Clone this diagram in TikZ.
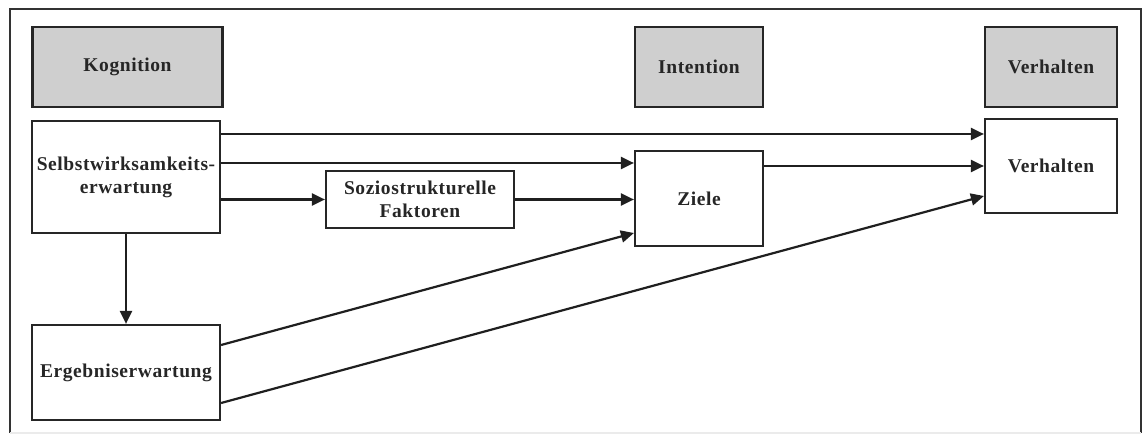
\documentclass[tikz,border=0pt]{standalone}
\usepackage{fontspec}
\setmainfont{Liberation Serif}[LetterSpace=3]
\usetikzlibrary{arrows.meta}
\begin{document}
\begin{tikzpicture}[x=1pt,y=-1pt,
  box/.style={draw=black!85,line width=2.2pt,rectangle,inner sep=0pt,align=center,
    font=\fontsize{19.5}{23}\selectfont\bfseries,text=black!85},
  head/.style={box,fill=black!19},
  arr/.style={line width=2.2pt,draw=black!88,-{Triangle[length=13pt,width=12pt]}},
  ln/.style={line width=2.2pt,draw=black!80}]
\useasboundingbox (0,0) rectangle (1143,435);
\draw[ln] (10,433) -- (10,9) -- (1141,9) -- (1141,433);
\draw[line width=1.5pt,draw=black!8] (10,433) -- (1141,433);
% headers
\node[head,minimum width=190pt,minimum height=80pt] (kog) at (127.5,67) {Kognition};
\node[head,minimum width=128pt,minimum height=80pt] (int) at (699,67) {Intention};
\node[head,minimum width=132pt,minimum height=80pt] (verhH) at (1051,67) {Verhalten};
% boxes
\node[box,minimum width=188pt,minimum height=112pt] (sel) at (126,177) {Selbstwirksamkeits-\\erwartung};
\node[box,minimum width=188pt,minimum height=95pt] (erg) at (126,372.5) {Ergebniserwartung};
\node[box,minimum width=188pt,minimum height=57pt] (soz) at (420,199.5) {Soziostrukturelle\\Faktoren};
\node[box,minimum width=128pt,minimum height=95pt] (zie) at (699,198.5) {Ziele};
\node[box,minimum width=132pt,minimum height=94pt] (ver) at (1051,166) {Verhalten};
% connectors
\draw[arr] (sel.east |- 0,134) -- (ver.west |- 0,134);
\draw[arr] (sel.east |- 0,163) -- (zie.west |- 0,163);
\draw[arr] (sel.east |- soz.west) -- (soz.west);
\draw[arr] (soz.east) -- (zie.west |- soz.east);
\draw[arr] (zie.east |- ver.west) -- (ver.west);
\draw[arr] (erg.east |- 0,345) -- (zie.west |- 0,233);
\draw[arr] (erg.east |- 0,403) -- (ver.west |- 0,196);
\draw[arr] (sel.south) -- (erg.north);
\end{tikzpicture}
\end{document}
